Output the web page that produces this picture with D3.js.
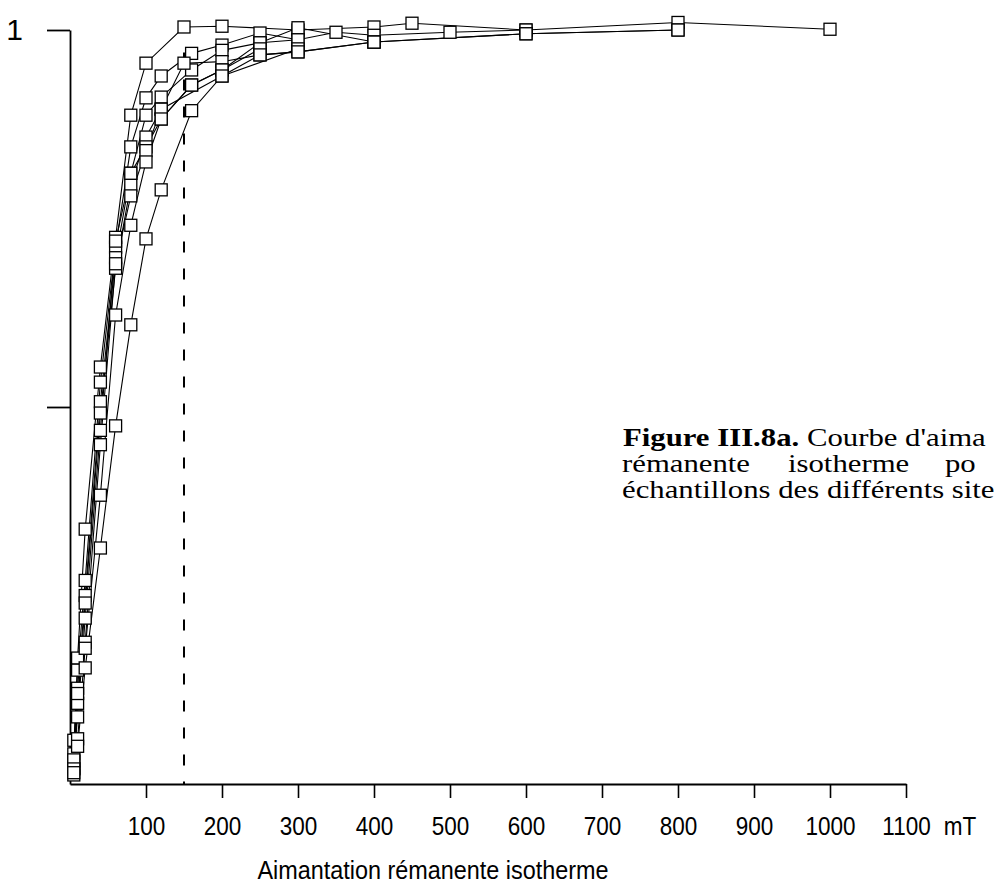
<!DOCTYPE html>
<html><head><meta charset="utf-8">
<script src="https://cdn.jsdelivr.net/npm/d3@7"></script>
<style>body{margin:0;background:#fff}svg{display:block}</style>
</head><body>
<svg id="c" width="1000" height="890"></svg>
<script>
// Data: [field (mT), normalised IRM]
const curveA = [[5,0.04],[10,0.167],[20,0.338],[40,0.553],[60,0.725],[80,0.887],[100,0.956],[150,1.004],[200,1.005],[300,1.0],[400,1.004],[450,1.009],[600,1.0],[800,1.01],[1000,1.001]];
const curveB = [[5,0.03],[10,0.151],[20,0.27],[40,0.533],[60,0.712],[80,0.845],[100,0.91],[120,0.939],[160,0.969],[200,0.98],[250,0.996],[300,0.987],[350,0.997],[400,0.993],[500,0.997],[600,1.0]];
const curveC = [[5,0.021],[10,0.127],[20,0.25],[40,0.507],[60,0.698],[80,0.81],[100,0.887],[120,0.911],[160,0.947],[200,0.973],[250,0.983],[300,1.003],[400,0.984],[600,0.995],[800,1.0]];
const curveD = [[5,0.012],[10,0.107],[20,0.24],[40,0.492],[60,0.684],[80,0.794],[100,0.858],[120,0.895],[150,0.956],[200,0.958],[250,0.967],[300,0.971],[400,0.984]];
const curveE = [[5,0.032],[10,0.089],[20,0.22],[40,0.469],[60,0.72],[80,0.81],[100,0.845],[120,0.882],[160,0.927],[200,0.947],[250,0.983],[300,0.987]];
const curveG = [[5,0.058],[10,0.12],[20,0.188],[40,0.45],[60,0.69],[80,0.78],[100,0.84],[120,0.895],[200,0.939],[300,0.975]];
const curveI = [[5,0.02],[10,0.06],[20,0.18],[40,0.383],[60,0.622],[80,0.741],[100,0.825],[120,0.882],[160,0.927],[200,0.947],[250,0.975]];
const curveJ = [[5,0.015],[10,0.05],[20,0.154],[40,0.313],[60,0.475],[80,0.609],[100,0.723],[120,0.788],[160,0.893],[200,0.939],[250,0.967],[300,0.971],[400,0.984],[600,0.995],[800,1.0]];
const curves = [curveA, curveB, curveC, curveD, curveE, curveG, curveI, curveJ];

const xTicks = [100,200,300,400,500,600,700,800,900,1000,1100];
const yTicks = [0.5, 1];
const yTickLabels = {1: "1", 0.5: ""};
const cutoffField = 150;
const xUnit = "mT";
const xTitle = "Aimantation rémanente isotherme";
// caption as visible in the reference crop
const captionBold = "Figure III.8a.";
const captionLines = ["Courbe d'aima", "rémanente isotherme po", "échantillons des différents site"];

const svg = d3.select("#c");
svg.append("rect").attr("width",1000).attr("height",890).attr("fill","#fff");

const x = d3.scaleLinear().domain([0,1100]).range([70,906]);
const y = d3.scaleLinear().domain([0,1]).range([784,30]);
const sans = "Liberation Sans, Arial, sans-serif";

// axes
const yAxis = d3.axisLeft(y).tickValues(yTicks).tickSize(23).tickSizeOuter(0)
  .tickPadding(24).tickFormat(d => yTickLabels[d]);
const gy = svg.append("g").attr("transform","translate(70,0)").call(yAxis);
gy.select(".domain").attr("stroke","#000").attr("stroke-width",1.8);
gy.selectAll(".tick line").attr("stroke","#000").attr("stroke-width",1.8);
gy.selectAll(".tick text").attr("font-family",sans)
  .attr("font-size",30).attr("fill","#000");

const xAxis = d3.axisBottom(x).tickValues(xTicks).tickSize(14).tickSizeOuter(0)
  .tickPadding(19).tickFormat(d3.format("d"));
const gx = svg.append("g").attr("transform","translate(0,784)").call(xAxis);
gx.select(".domain").attr("stroke","#000").attr("stroke-width",1.8);
gx.selectAll(".tick line").attr("stroke","#000").attr("stroke-width",1.6);
gx.selectAll(".tick text").attr("font-family",sans)
  .attr("font-size",25).attr("fill","#000").attr("transform","scale(0.9,1)");

svg.append("g").attr("transform","translate(960,0) scale(0.9,1)")
  .append("text").attr("x",0).attr("y",784+14+19).attr("dy","0.71em")
  .attr("text-anchor","middle").attr("font-family",sans)
  .attr("font-size",25).text(xUnit);

svg.append("g").attr("transform","translate(433,0) scale(0.9,1)")
  .append("text").attr("x",0).attr("y",879).attr("text-anchor","middle")
  .attr("font-family",sans).attr("font-size",26).text(xTitle);

// dashed cut-off line
svg.append("line").attr("x1",x(cutoffField)).attr("x2",x(cutoffField))
  .attr("y1",y(0.97)).attr("y2",y(0)).attr("stroke","#000").attr("stroke-width",2)
  .attr("stroke-dasharray","11,16");

// curves
const line = d3.line().x(d => x(d[0])).y(d => y(d[1]));
svg.append("g").selectAll("path").data(curves).join("path")
  .attr("d", line).attr("fill","none").attr("stroke","#000").attr("stroke-width",1.1);

const pts = curves.flat();
svg.append("g").selectAll("rect").data(pts).join("rect")
  .attr("x", d => x(d[0]) - 6).attr("y", d => y(d[1]) - 6)
  .attr("width",12).attr("height",12).attr("fill","#fff")
  .attr("stroke","#000").attr("stroke-width",1.3);

// caption (printed text, slightly wide)
const sx = 1.23, x0 = 622;
const cap = svg.append("g").attr("transform",`translate(${x0},0) scale(${sx},1)`)
  .append("text").attr("font-family","Liberation Serif, 'Times New Roman', serif")
  .attr("font-size",25).attr("fill","#000");
cap.append("tspan").attr("x",(623-x0)/sx).attr("y",446).attr("font-weight","bold").text(captionBold + " ");
cap.append("tspan").text(captionLines[0]);
const w2 = captionLines[1].split(" ");
const pos2 = [622, 788, 945];
w2.forEach((w,i) => cap.append("tspan").attr("x",(pos2[i]-x0)/sx).attr("y",472).text(w));
cap.append("tspan").attr("x",0).attr("y",498).text(captionLines[2]);
</script>
</body></html>
